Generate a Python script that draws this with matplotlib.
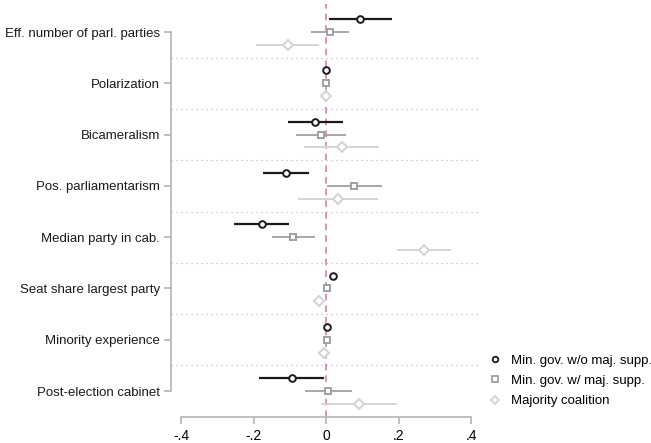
import matplotlib.pyplot as plt
import numpy as np

plt.rcParams['font.family'] = ['Liberation Sans', 'DejaVu Sans']

labels = ["Eff. number of parl. parties", "Polarization", "Bicameralism",
          "Pos. parliamentarism", "Median party in cab.", "Seat share largest party",
          "Minority experience", "Post-election cabinet"]

# min. gov. without majority support
est_a = [0.095, 0.000, -0.030, -0.111, -0.177, 0.018, 0.004, -0.095]
lo_a = [0.008, -0.003, -0.104, -0.175, -0.253, 0.010, 0.001, -0.185]
hi_a = [0.183, 0.003, 0.048, -0.046, -0.101, 0.026, 0.007, -0.005]
# min. gov. with majority support
est_b = [0.011, 0.000, -0.015, 0.078, -0.090, 0.002, 0.003, 0.006]
lo_b = [-0.041, -0.002, -0.083, 0.002, -0.150, -0.002, 0.000, -0.058]
hi_b = [0.064, 0.002, 0.055, 0.155, -0.030, 0.006, 0.006, 0.071]
# majority coalition
est_c = [-0.104, 0.000, 0.043, 0.034, 0.270, -0.019, -0.006, 0.091]
lo_c = [-0.193, -0.003, -0.060, -0.076, 0.195, -0.023, -0.010, -0.014]
hi_c = [-0.018, 0.003, 0.146, 0.143, 0.344, -0.015, -0.002, 0.195]

series = [
    ("Min. gov. w/o maj. supp.", est_a, lo_a, hi_a, 'o', '#1a1a1a', -0.25, 1.6),
    ("Min. gov. w/ maj. supp.", est_b, lo_b, hi_b, 's', '#a0a0a0', 0.0, 1.3),
    ("Majority coalition", est_c, lo_c, hi_c, 'D', '#d2d2d2', 0.25, 1.3),
]

fig = plt.figure(figsize=(6.51, 4.43), dpi=100)
ax = fig.add_axes([171/651, 1-417/443, (480-171)/651, (417-4)/443])

pos = np.arange(len(labels))
ax.axvline(0, color='#e07bb4', lw=1.2, ls=(0, (4, 3)), zorder=1)
for k in range(len(labels) - 1):
    ax.axhline(k + 0.5, color='#c0c0c0', lw=0.9, ls=(0, (1, 3)), zorder=0)

handles = []
for name, est, lo, hi, mk, col, off, lw in series:
    y = pos + off
    ax.hlines(y, lo, hi, color=col, lw=lw, zorder=2)
    ms = 4.6 if mk == 'D' else 4.8
    h, = ax.plot(est, y, ls='none', marker=mk, ms=ms, mfc='white', mec=col, mew=1.4, zorder=3)
    handles.append(h)

ax.set_xlim(-0.4276, 0.4248)
ax.set_ylim(7.505, -0.546)
ax.set_yticks(pos)
ax.set_yticklabels(labels, fontsize=9.5, color='#1a1a1a')
ax.set_xticks([-0.4, -0.2, 0, 0.2, 0.4])
ax.set_xticklabels(['-.4', '-.2', '0', '.2', '.4'], fontsize=9.5, color='#1a1a1a')

for s in ['top', 'right']:
    ax.spines[s].set_visible(False)
ax.spines['left'].set_bounds(0, 7)
ax.spines['bottom'].set_bounds(-0.4, 0.4)
ax.spines['bottom'].set_position(('data', 7.505))
for s in ['left', 'bottom']:
    ax.spines[s].set_color('#b4b4b4')
    ax.spines[s].set_linewidth(1.2)
ax.tick_params(axis='both', color='#b4b4b4', width=1.2, length=5)
ax.tick_params(axis='y', pad=3)
ax.tick_params(axis='x', pad=4)

leg_h = [plt.Line2D([], [], ls='none', marker=h.get_marker(), ms=4.0,
                    mfc='white', mec=h.get_mec(), mew=1.3) for h in handles]
fig.legend(leg_h, [s[0] for s in series], loc='upper left', bbox_to_anchor=(483/651, 1-349/443),
           frameon=False, fontsize=9.5, handlelength=1.0, handletextpad=0.7, labelspacing=0.62,
           borderaxespad=0)

fig.savefig('out.png', dpi=100)
